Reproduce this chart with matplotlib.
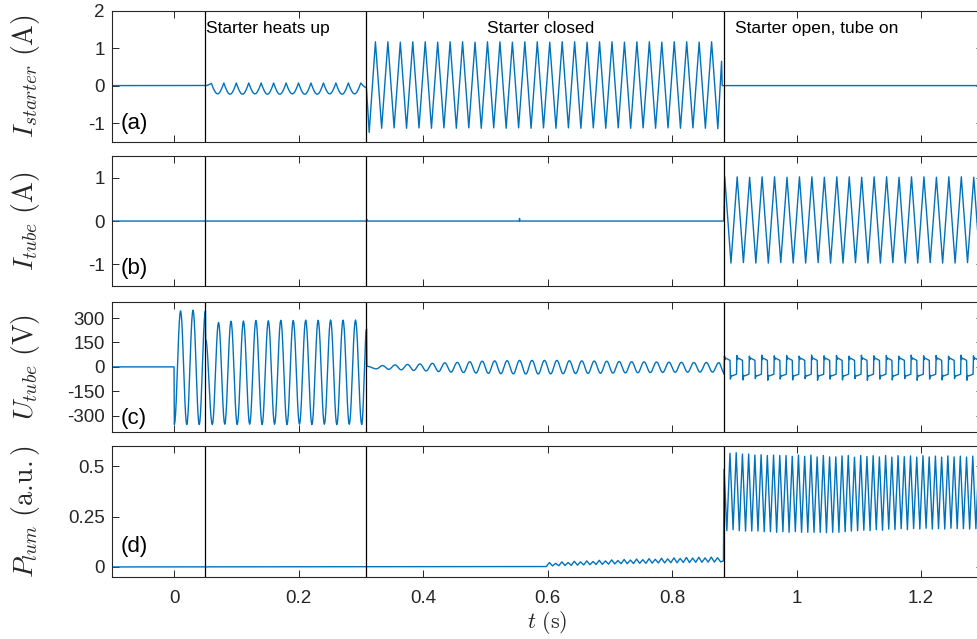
import numpy as np
import matplotlib.pyplot as plt

plt.rcParams['font.family'] = ['Liberation Sans', 'DejaVu Sans']
plt.rcParams['mathtext.fontset'] = 'cm'
plt.rcParams['axes.unicode_minus'] = False

BLUE = '#0072BD'
DARK = '#262626'

# switching instants (s) and the phase names written above panel (a)
switch_times = [0.0505, 0.309, 0.883]
phase_labels = ['Starter heats up', 'Starter closed', 'Starter open, tube on']
phase_label_t = [0.0514, 0.5896, 0.901]
panel_tags = ['(a)', '(b)', '(c)', '(d)']
tag_y = [-1.0, -1.1, -320, 0.1]
ylabels = [r'$I_{starter}\ (\mathrm{A})$', r'$I_{tube}\ (\mathrm{A})$',
           r'$U_{tube}\ (\mathrm{V})$', r'$P_{lum}\ (\mathrm{a.\!u.})$']
ylims = [(-1.5, 2), (-1.5, 1.5), (-400, 400), (-0.05, 0.6)]
yticks = [[-1, 0, 1, 2], [-1, 0, 1], [-300, -150, 0, 150, 300], [0, 0.25, 0.5]]
ytick_labels = [['-1', '0', '1', '2'], ['-1', '0', '1'],
                ['-300', '-150', '0', '150', '300'], ['0', '0.25', '0.5']]
xticks = [0, 0.2, 0.4, 0.6, 0.8, 1.0, 1.2]
xtick_labels = ['0', '0.2', '0.4', '0.6', '0.8', '1', '1.2']

MAINS = 0.02  # one mains cycle

# (a) starter current: extremes read per cycle
a_heat_top = [0.06, 0.07, 0.07, 0.07, 0.07, 0.07, 0.07, 0.07, 0.07, 0.07, 0.07, 0.07, 0.07]
a_heat_dip = [-0.22, -0.23, -0.23, -0.22, -0.23, -0.23, -0.22, -0.23, -0.23, -0.22, -0.23, -0.22]
a_closed_min = [-1.25, -1.14, -1.13, -1.14, -1.13, -1.14, -1.13, -1.14, -1.13, -1.14,
                -1.13, -1.14, -1.13, -1.14, -1.13, -1.14, -1.13, -1.14, -1.13, -1.14,
                -1.13, -1.14, -1.13, -1.14, -1.13, -1.14, -1.13, -1.14, -1.15]
a_closed_max = [1.17, 1.17, 1.16, 1.17, 1.17, 1.16, 1.17, 1.17, 1.16, 1.17,
                1.17, 1.16, 1.17, 1.17, 1.16, 1.17, 1.17, 1.16, 1.17, 1.17,
                1.16, 1.17, 1.17, 1.16, 1.17, 1.17, 1.16, 1.17]

# (b) tube current
b_peak = [1.02, 1.02, 1.01, 1.02, 1.02, 1.01, 1.02, 1.02, 1.01, 1.02, 1.02,
          1.01, 1.02, 1.02, 1.01, 1.02, 1.02, 1.01, 1.02, 1.02, 1.01]
b_trough = [-0.97, -0.96, -0.97, -0.97, -0.96, -0.97, -0.97, -0.96, -0.97, -0.97, -0.96,
            -0.97, -0.97, -0.96, -0.97, -0.97, -0.96, -0.97, -0.97, -0.96, -0.97]

# (c) tube voltage
c_burst_trough = [-354, -354, -354]
c_burst_peak = [344, 348, 344]
c_heat_trough = [-354, -352, -354, -352, -354, -352, -354, -352, -354, -352, -354, -352, -354]
c_heat_peak = [273, 280, 282, 285, 283, 286, 285, 287, 286, 288, 287, 288]
c_closed_trough = [-12, -15, -18, -22, -25, -29, -32, -35, -38, -40, -42, -43, -44, -44,
                   -43, -42, -41, -40, -39, -38, -37, -36, -35, -34, -33, -33, -32, -32]
c_closed_peak = [8, 12, 15, 18, 22, 25, 28, 32, 35, 37, 38, 40, 40, 40,
                 40, 38, 37, 36, 35, 33, 32, 31, 30, 29, 28, 27, 27, 26]
c_on_top = [68, 70, 66, 72, 68, 70, 66, 72, 68, 70, 66, 72, 68, 70, 66, 72, 68, 70, 66, 72, 68]
c_on_bot = [-75, -80, -72, -82, -75, -80, -72, -82, -75, -80, -72, -82, -75, -80, -72,
            -82, -75, -80, -72, -82, -75]
# one tube-on voltage cycle (fraction of cycle, level); spikes come from the lists above
sq_phase = [0.0, 0.03, 0.08, 0.13, 0.48, 0.51, 0.56, 0.62, 0.99]
sq_level = [-45, None, 45, 54, 40, None, -52, -56, -45]

# (d) luminous power
d_bump_peak = [0.022, 0.018, 0.025, 0.022, 0.028, 0.025, 0.030, 0.027, 0.033, 0.030,
               0.035, 0.032, 0.037, 0.034, 0.039, 0.036, 0.041, 0.038, 0.043, 0.040,
               0.045, 0.042, 0.047, 0.044, 0.048, 0.045, 0.049, 0.046]
d_bump_base = [0.005, 0.006, 0.007, 0.008, 0.009, 0.010, 0.011, 0.012, 0.013, 0.014,
               0.015, 0.016, 0.016, 0.017, 0.018, 0.018, 0.019, 0.020, 0.020, 0.021,
               0.021, 0.022, 0.022, 0.023, 0.023, 0.024, 0.024, 0.025]
d_on_trough = [0.180, 0.185, 0.180, 0.178, 0.178, 0.178, 0.175, 0.175, 0.172, 0.175,
               0.172, 0.175, 0.172, 0.172, 0.172, 0.172, 0.170, 0.172, 0.172, 0.175,
               0.178, 0.180, 0.182, 0.180, 0.185, 0.182, 0.188, 0.185, 0.190, 0.185,
               0.190, 0.188, 0.192, 0.188, 0.190, 0.188, 0.192, 0.190, 0.190, 0.188, 0.190]
d_on_peak = [0.564, 0.567, 0.560, 0.560, 0.555, 0.557, 0.553, 0.555, 0.553, 0.553,
             0.549, 0.555, 0.549, 0.555, 0.546, 0.553, 0.546, 0.546, 0.551, 0.553,
             0.544, 0.553, 0.548, 0.552, 0.546, 0.553, 0.545, 0.552, 0.547, 0.551,
             0.545, 0.552, 0.546, 0.550, 0.545, 0.551, 0.546, 0.550, 0.545, 0.550, 0.546]


def alternate(t0, first, second, period):
    # first list at t0 + k*period, second half a period later
    pts = []
    for k in range(max(len(first), len(second))):
        if k < len(first):
            pts.append((t0 + period * k, first[k]))
        if k < len(second):
            pts.append((t0 + period * (k + 0.5), second[k]))
    return pts


def trace(segments, n=10):
    ts, ys = [], []
    s = np.linspace(0, 1, n + 1)[1:]
    for pts, curve in segments:
        ts.append(pts[0][0])
        ys.append(pts[0][1])
        for (t0, y0), (t1, y1) in zip(pts[:-1], pts[1:]):
            if curve == 'cos':
                w = (1 - np.cos(np.pi * s)) / 2
            elif curve == 'dip':
                # pointed tops, rounded bottoms
                w = np.sin(np.pi * s / 2) if y1 < y0 else 1 - np.cos(np.pi * s / 2)
            else:
                w = s
            ts.extend(t0 + (t1 - t0) * s)
            ys.extend(y0 + (y1 - y0) * w)
    return np.array(ts), np.array(ys)


# build the four traces
a_t, a_y = trace([
    ([(-0.1, 0.0), (0.0505, 0.0)], 'line'),
    ([(0.0505, 0.0)] + alternate(0.060, a_heat_top, a_heat_dip, MAINS) + [(0.309, -0.05)], 'dip'),
    ([(0.309, -0.05)] + alternate(0.3135, a_closed_min, a_closed_max, MAINS)
     + [(0.8795, 0.65), (0.8805, 0.0), (1.3, 0.0)], 'line'),
])

b_t, b_y = trace([
    ([(-0.1, 0.0), (0.309, 0.0), (0.3095, 0.04), (0.3105, 0.0), (0.5545, 0.0),
      (0.555, 0.06), (0.5555, 0.0), (0.883, 0.0)] + alternate(0.8846, b_peak, b_trough, MAINS), 'line'),
])

sq_pts = []
for k in range(len(c_on_top)):
    t0 = 0.8835 + MAINS * k
    for ph, lv in zip(sq_phase, sq_level):
        if lv is None:
            lv = c_on_top[k] if ph < 0.25 else c_on_bot[k]
        sq_pts.append((t0 + ph * MAINS, lv))

c_t, c_y = trace([
    ([(-0.1, 0.0), (0.0, 0.0), (0.0005, -354)], 'line'),
    (alternate(0.0005, c_burst_trough, c_burst_peak, MAINS), 'cos'),
    ([(0.0505, 344), (0.0508, 172)], 'line'),
    ([(0.0508, 172)] + alternate(0.0615, c_heat_trough, c_heat_peak, MAINS) + [(0.3093, 233)], 'cos'),
    ([(0.3093, 233), (0.3098, 4)], 'line'),
    ([(0.3098, 4)] + alternate(0.325, c_closed_trough, c_closed_peak, MAINS) + [(0.8832, -35)], 'cos'),
    ([(0.8832, -35)] + sq_pts, 'line'),
])

d_t, d_y = trace([
    ([(-0.1, 0.0), (0.598, 0.002)] + alternate(0.603, d_bump_peak, d_bump_base, MAINS / 2)
     + [(0.8825, 0.03), (0.8835, 0.485)]
     + alternate(0.888, d_on_trough, d_on_peak, MAINS / 2), 'line'),
])

traces = [(a_t, a_y), (b_t, b_y), (c_t, c_y), (d_t, d_y)]

fig = plt.figure(figsize=(9.77, 6.39), dpi=100)
left, width = 0.1144, 0.8921
rows = [(0.7782, 0.2050), (0.5524, 0.2034), (0.3239, 0.2039), (0.0970, 0.2050)]

for i, (bottom, height) in enumerate(rows):
    ax = fig.add_axes([left, bottom, width, height])
    t, y = traces[i]
    ax.plot(t, y, color=BLUE, lw=1.0)
    for ts in switch_times:
        ax.axvline(ts, color='black', lw=0.9)
    ax.set_xlim(-0.1, 1.3)
    ax.set_ylim(*ylims[i])
    ax.set_yticks(yticks[i])
    ax.set_yticklabels(ytick_labels[i])
    ax.set_xticks(xticks)
    if i == 3:
        ax.set_xticklabels(xtick_labels)
        ax.set_xlabel(r'$t\ (\mathrm{s})$', fontsize=16, color=DARK, va='center')
        ax.xaxis.set_label_coords(0.5, -0.35)
    else:
        ax.set_xticklabels([])
    ax.tick_params(direction='in', length=5, width=0.7, top=True, right=True,
                   colors=DARK, labelsize=13.5)
    ax.tick_params(axis='y', pad=5)
    ax.tick_params(axis='x', pad=9)
    for sp in ax.spines.values():
        sp.set_color(DARK)
        sp.set_linewidth(0.8)
    ax.set_ylabel(ylabels[i], fontsize=20, color=DARK, va='center')
    ax.yaxis.set_label_coords(-0.099, 0.5)
    ax.text(-0.085, tag_y[i], panel_tags[i], fontsize=16, color='black', va='center', ha='left')
    if i == 0:
        for lab, lt in zip(phase_labels, phase_label_t):
            ax.text(lt, 0.864, lab, transform=ax.get_xaxis_transform(), fontsize=12.5,
                    color='black', va='center', ha='center' if lab == 'Starter closed' else 'left')

fig.savefig('out.png', dpi=100)
